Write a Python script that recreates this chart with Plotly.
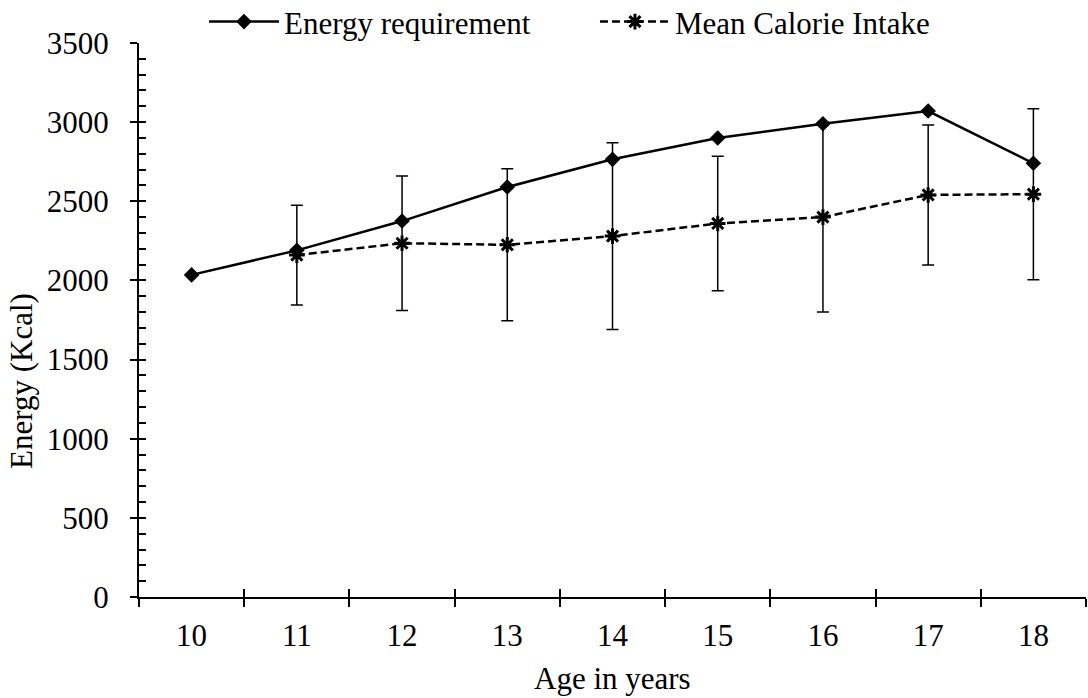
import plotly.graph_objects as go

ages = [10, 11, 12, 13, 14, 15, 16, 17, 18]
age_labels = ["10", "11", "12", "13", "14", "15", "16", "17", "18"]
energy_requirement = [2035, 2190, 2375, 2590, 2765, 2900, 2990, 3070, 2740]

intake_labels = ["11", "12", "13", "14", "15", "16", "17", "18"]
mean_intake = [2160, 2235, 2225, 2280, 2360, 2400, 2540, 2545]
intake_sd = [315, 425, 480, 590, 425, 600, 442, 540]

FONT = "Liberation Serif, Times New Roman, serif"
BLACK = "#000000"
FS = 31

fig = go.Figure()

fig.add_trace(go.Scatter(
    x=intake_labels, y=mean_intake, name="Mean Calorie Intake",
    mode="lines+markers",
    line=dict(color=BLACK, width=2.5, dash="8px,4px"),
    marker=dict(symbol="asterisk-open", size=13, color=BLACK,
                line=dict(color=BLACK, width=3)),
    error_y=dict(type="data", array=intake_sd, visible=True,
                 color=BLACK, thickness=1.5, width=6),
    legendrank=2,
))

fig.add_trace(go.Scatter(
    x=age_labels, y=energy_requirement, name="Energy requirement",
    mode="lines+markers",
    line=dict(color=BLACK, width=2.5),
    marker=dict(symbol="diamond", size=12, color=BLACK),
    legendrank=1,
))

# empty helper trace for the overlay axes (inside tick marks)
fig.add_trace(go.Scatter(x=[], y=[], xaxis="x2", yaxis="y2",
                         showlegend=False, hoverinfo="skip"))

boundaries = [i - 0.5 for i in range(len(ages) + 1)]

fig.update_layout(
    width=1088, height=698,
    margin=dict(l=139, r=2, t=43, b=101, autoexpand=False),
    paper_bgcolor="white", plot_bgcolor="white",
    font=dict(family=FONT, size=FS, color=BLACK),
    showlegend=True,
    legend=dict(orientation="h", x=0.0686, xanchor="left",
                y=1.038, yanchor="middle", font=dict(size=FS, family=FONT),
                itemwidth=70, entrywidth=306, entrywidthmode="pixels",
                bgcolor="rgba(0,0,0,0)"),
    xaxis=dict(type="category", categoryorder="array", categoryarray=age_labels,
               range=[-0.5, 8.5], showline=True, linecolor=BLACK, linewidth=2,
               ticks="outside", tickson="boundaries", ticklen=8, tickwidth=2,
               tickcolor=BLACK, showgrid=False, zeroline=False, automargin=False,
               ticklabelstandoff=10, tickfont=dict(size=FS, family=FONT)),
    yaxis=dict(range=[0, 3500], dtick=500, tick0=0, showline=True,
               linecolor=BLACK, linewidth=2, ticks="outside", ticklen=7,
               tickwidth=2, tickcolor=BLACK, showgrid=False, zeroline=False,
               automargin=False,
               ticklabelstandoff=15, tickfont=dict(size=FS, family=FONT)),
    xaxis2=dict(overlaying="x", anchor="y", range=[-0.5, 8.5],
                tickmode="array", tickvals=boundaries, ticks="inside",
                ticklen=8, tickwidth=2, tickcolor=BLACK, showticklabels=False,
                showgrid=False, zeroline=False, showline=False, automargin=False),
    yaxis2=dict(overlaying="y", anchor="x", side="left", range=[0, 3500],
                tickmode="linear", tick0=0, dtick=100, ticks="inside",
                ticklen=7, tickwidth=2, tickcolor=BLACK, showticklabels=False,
                showgrid=False, zeroline=False, showline=False, automargin=False),
    annotations=[
        dict(text="Energy (Kcal)", xref="paper", yref="paper",
             x=-0.1235, y=0.39, textangle=-90, showarrow=False,
             xanchor="center", yanchor="middle",
             font=dict(size=FS, family=FONT)),
        dict(text="Age in years", xref="paper", yref="paper",
             x=0.5, y=-0.148, showarrow=False, xanchor="center",
             yanchor="middle", font=dict(size=FS, family=FONT)),
    ],
)

fig.write_html("out.html", config={"displayModeBar": False},
               post_script="document.body.style.margin='0';document.body.style.padding='0';")
